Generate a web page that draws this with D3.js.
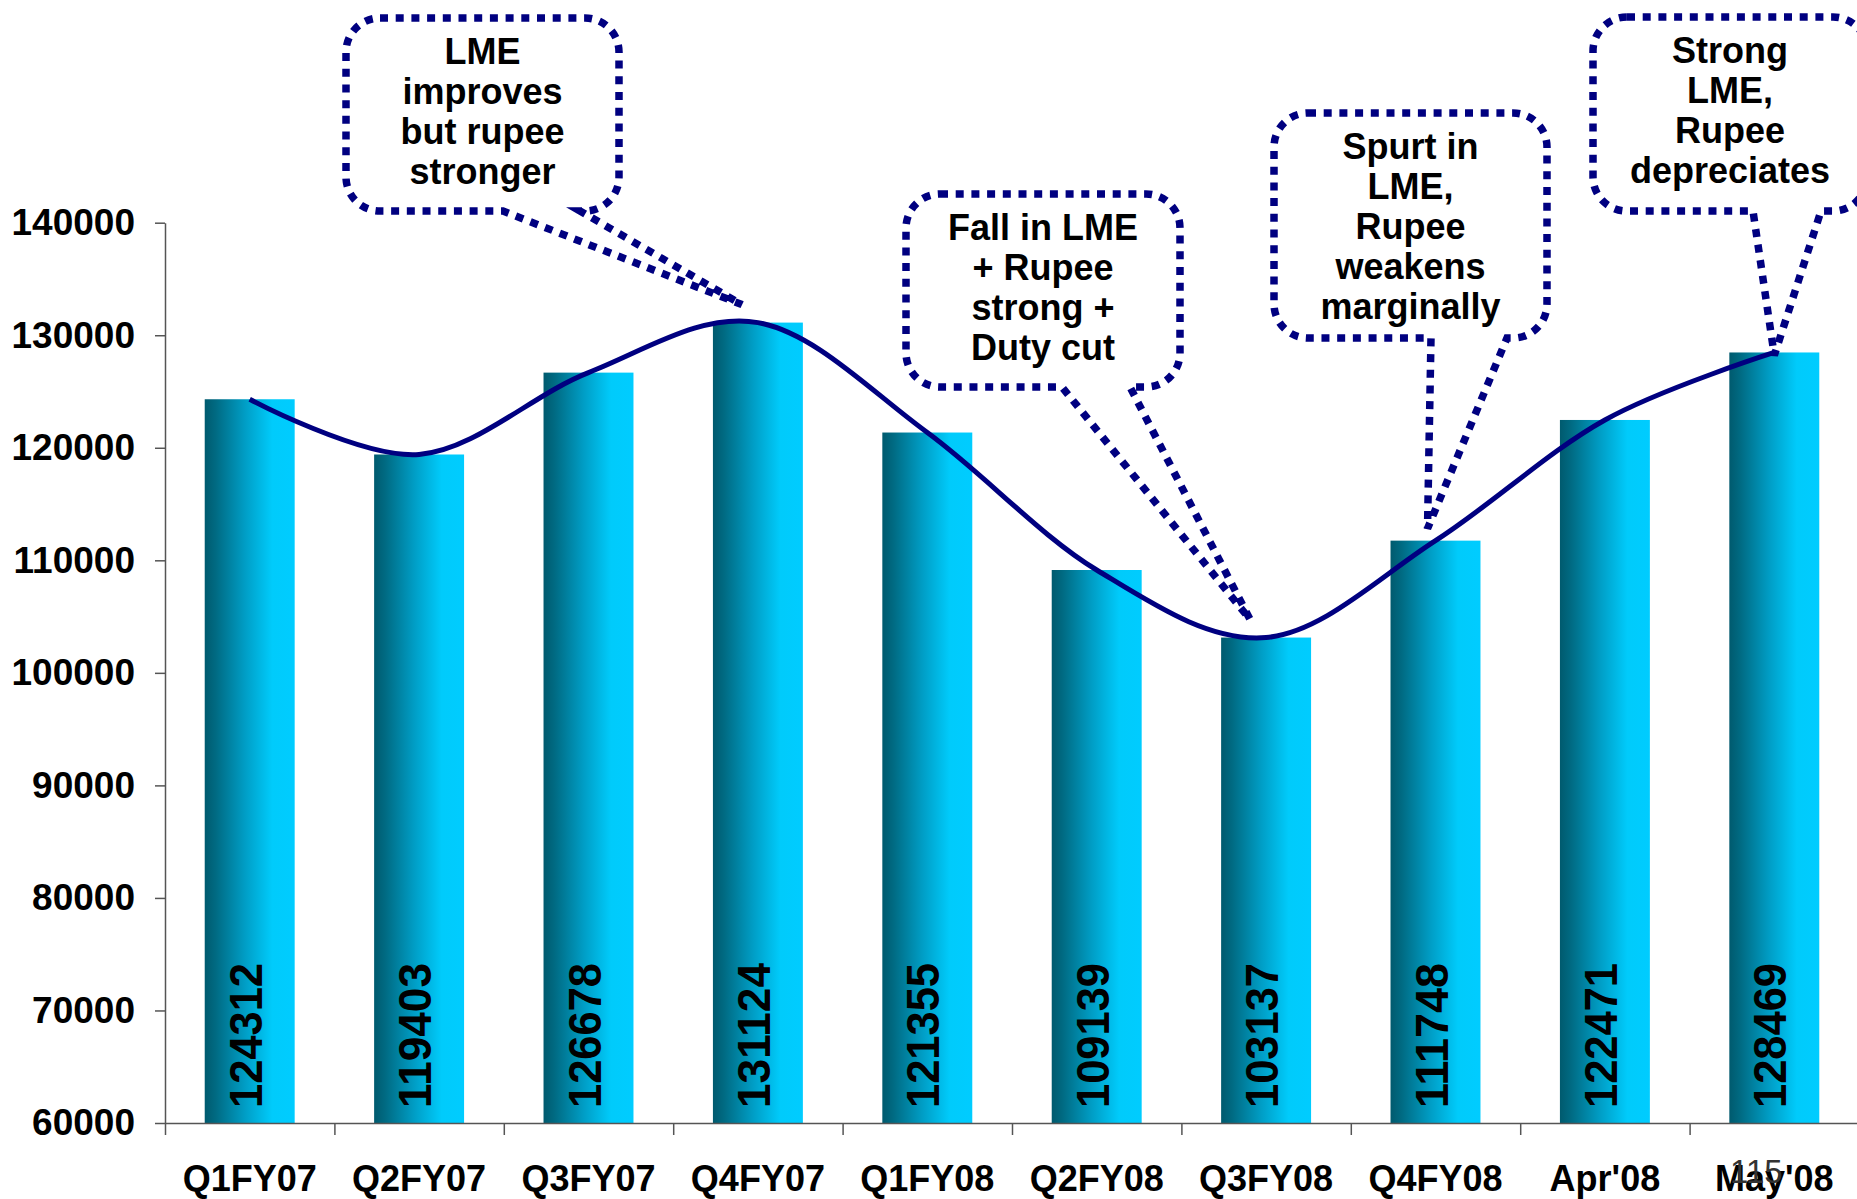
<!DOCTYPE html>
<html>
<head>
<meta charset="utf-8">
<script src="https://cdn.jsdelivr.net/npm/d3@7"></script>
<style>
    body { margin: 0; background: #fff; }
    svg { display: block; font-family: "Liberation Sans", Arial, sans-serif; }
</style>
</head>
<body>
<div id="canvas"></div>
<script>
// chart data
var categories = ["Q1FY07", "Q2FY07", "Q3FY07", "Q4FY07", "Q1FY08", "Q2FY08", "Q3FY08", "Q4FY08", "Apr'08", "May'08"];
var values = [124312, 119403, 126678, 131124, 121355, 109139, 103137, 111748, 122471, 128469];
var yTicks = [60000, 70000, 80000, 90000, 100000, 110000, 120000, 130000, 140000];

// callout texts and the category each one points at
var noteCats = ["Q4FY07", "Q3FY08", "Q4FY08", "May'08"];
var noteLines = [
    ["LME", "improves", "but rupee", "stronger"],
    ["Fall in LME", "+ Rupee", "strong +", "Duty cut"],
    ["Spurt in", "LME,", "Rupee", "weakens", "marginally"],
    ["Strong", "LME,", "Rupee", "depreciates"]
];

var width = 1857, height = 1199;
var plotLeft = 165, plotRight = 1859, plotTop = 222.7, plotBottom = 1123;

var svg = d3.select("#canvas")
            .append("svg")
                .attr("width", width)
                .attr("height", height);

var defs = svg.append("defs");
var grad = defs.append("linearGradient")
    .attr("id", "barGrad")
    .attr("x1", "0").attr("x2", "1").attr("y1", "0").attr("y2", "0");
grad.append("stop").attr("offset", "0").attr("stop-color", "#005a6e");
grad.append("stop").attr("offset", "0.12").attr("stop-color", "#006a82");
grad.append("stop").attr("offset", "0.45").attr("stop-color", "#009ec6");
grad.append("stop").attr("offset", "0.75").attr("stop-color", "#00cbfb");
grad.append("stop").attr("offset", "1").attr("stop-color", "#00ccff");

var yScale = d3.scaleLinear()
            .domain([60000, 140000])
            .range([plotBottom, plotTop]);

var xScale = d3.scaleBand()
            .domain(categories)
            .range([plotLeft, plotRight])
            .paddingInner(0.469)
            .paddingOuter(0.2345);

// boundaries between categories, for the tick marks
var xEdge = d3.scaleLinear()
            .domain([0, categories.length])
            .range([plotLeft, plotRight]);

// bars
svg.selectAll("rect.bar")
    .data(values)
    .enter().append("rect")
    .attr("class", "bar")
    .attr("x", function(d, i) { return xScale(categories[i]); })
    .attr("y", function(d) { return yScale(d); })
    .attr("width", xScale.bandwidth())
    .attr("height", function(d) { return yScale(60000) - yScale(d); })
    .style("fill", "url(#barGrad)");

// value labels inside the bars
svg.selectAll("text.val")
    .data(values)
    .enter().append("text")
    .attr("class", "val")
    .attr("transform", function(d, i) {
        var cx = xScale(categories[i]) + xScale.bandwidth() / 2;
        return "translate(" + cx + "," + (yScale(60000) - 15) + ") rotate(-90)";
    })
    .attr("y", 12)
    .attr("font-size", "47px")
    .attr("font-weight", "bold")
    .attr("textLength", 145)
    .attr("lengthAdjust", "spacingAndGlyphs")
    .style("fill", "#000")
    .text(function(d) { return d; });

// y axis
var yAxis = d3.axisLeft(yScale)
            .tickValues(yTicks)
            .tickFormat(d3.format("d"))
            .tickSize(10)
            .tickSizeOuter(0)
            .tickPadding(20);

var gy = svg.append("g")
    .attr("class", "y axis")
    .attr("transform", "translate(" + plotLeft + ",0)")
    .call(yAxis);
gy.selectAll("text")
    .attr("font-size", "37px")
    .attr("font-weight", "bold")
    .attr("font-family", "Liberation Sans, Arial, sans-serif")
    .style("fill", "#000");

// x axis: line and boundary ticks
var gx = svg.append("g")
    .attr("class", "x axis")
    .attr("transform", "translate(0," + plotBottom + ")")
    .call(d3.axisBottom(xEdge).ticks(categories.length).tickFormat("").tickSize(12).tickSizeOuter(0));

// x axis: category labels
var gxl = svg.append("g")
    .attr("transform", "translate(0," + plotBottom + ")")
    .call(d3.axisBottom(xScale).tickSize(0).tickPadding(42));
gxl.select(".domain").remove();
gxl.selectAll("text")
    .attr("font-size", "36px")
    .attr("font-weight", "bold")
    .attr("font-family", "Liberation Sans, Arial, sans-serif")
    .style("fill", "#000");

svg.selectAll(".axis path, .axis line")
    .style("stroke", "#555")
    .style("stroke-width", 1.5);

// page number sitting under the last label
svg.append("text")
    .attr("x", 1730)
    .attr("y", 1183)
    .attr("font-size", "33px")
    .style("fill", "#333")
    .text("115");

// smoothed trend line through the bar tops
var line = d3.line()
    .x(function(d, i) { return xScale(categories[i]) + xScale.bandwidth() / 2; })
    .y(function(d) { return yScale(d); })
    .curve(d3.curveCardinal.tension(0));

svg.append("path")
    .datum(values)
    .attr("d", line)
    .style("fill", "none")
    .style("stroke", "#000080")
    .style("stroke-width", 5)
    .style("stroke-linejoin", "round");

// callout layout: box edges, wedge base on the bottom edge, tip offset from the data point
var noteBoxes = [
    {x0: 346, x1: 619, y0: 18, y1: 211, b0: 503, b1: 580, dx: -16, dy: -18},
    {x0: 906, x1: 1180, y0: 194, y1: 387, b0: 1062, b1: 1130, dx: -16, dy: -18},
    {x0: 1274, x1: 1547, y0: 113, y1: 338, b0: 1431, b1: 1507, dx: -8, dy: -12},
    {x0: 1593, x1: 1867, y0: 17, y1: 211, b0: 1753, b1: 1821, dx: 0, dy: 3}
];

noteBoxes.forEach(function(b, k) {
    var i = categories.indexOf(noteCats[k]);
    var tx = xScale(categories[i]) + xScale.bandwidth() / 2 + b.dx;
    var ty = yScale(values[i]) + b.dy;
    var r = 34;
    var p = d3.path();
    p.moveTo(b.x0 + r, b.y0);
    p.lineTo(b.x1 - r, b.y0);
    p.arcTo(b.x1, b.y0, b.x1, b.y0 + r, r);
    p.lineTo(b.x1, b.y1 - r);
    p.arcTo(b.x1, b.y1, b.x1 - r, b.y1, r);
    p.lineTo(b.b1, b.y1);
    p.lineTo(tx, ty);
    p.lineTo(b.b0, b.y1);
    p.lineTo(b.x0 + r, b.y1);
    p.arcTo(b.x0, b.y1, b.x0, b.y1 - r, r);
    p.lineTo(b.x0, b.y0 + r);
    p.arcTo(b.x0, b.y0, b.x0 + r, b.y0, r);
    p.closePath();

    svg.append("path")
        .attr("d", p.toString())
        .style("fill", "none")
        .style("stroke", "#000080")
        .style("stroke-width", 7.5)
        .style("stroke-dasharray", "8 7.7");

    var cx = (b.x0 + b.x1) / 2;
    svg.append("text")
        .attr("text-anchor", "middle")
        .attr("font-size", "36px")
        .attr("font-weight", "bold")
        .style("fill", "#000")
        .selectAll("tspan")
        .data(noteLines[k])
        .enter().append("tspan")
        .attr("x", cx)
        .attr("y", function(d, j) { return b.y0 + 46 + j * 40; })
        .text(function(d) { return d; });
});
</script>
</body>
</html>
